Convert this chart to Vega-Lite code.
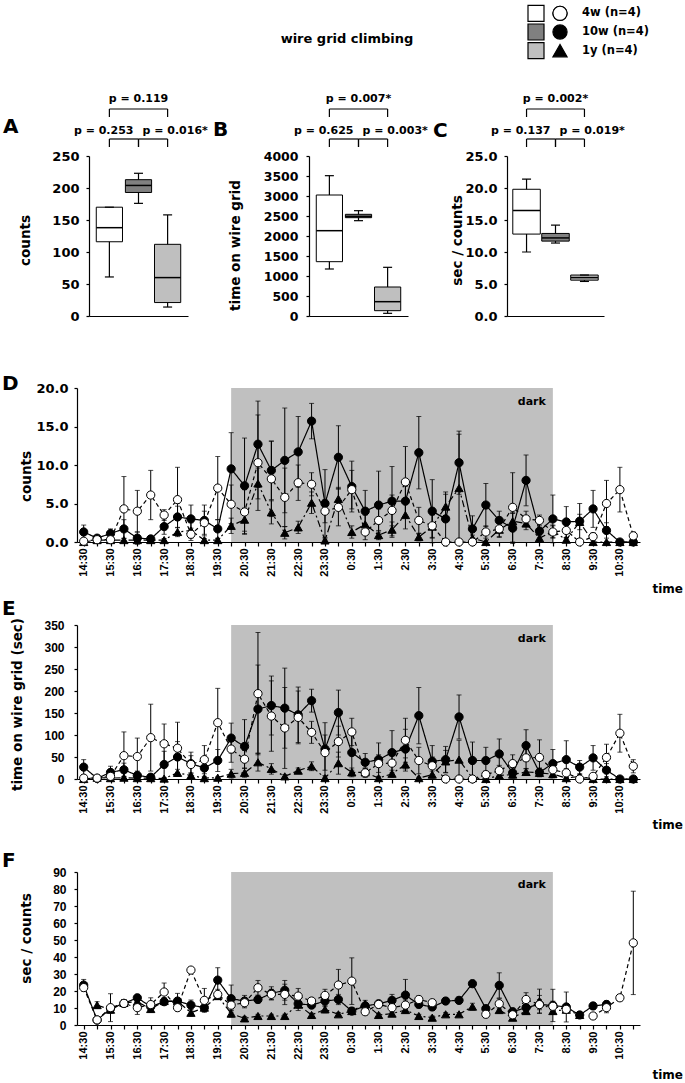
{
"padding": 2,
"config": {
 "view": {"stroke": null},
 "font": "DejaVu Sans",
 "axis": {"grid": false, "domainColor": "black", "tickColor": "black", "labelColor": "black", "titleColor": "black", "domainWidth": 1.2, "tickWidth": 1.2, "tickSize": 3, "labelFont": "DejaVu Sans", "labelFontWeight": "bold", "labelFontSize": 12, "titleFont": "DejaVu Sans", "titleFontWeight": "bold", "titleFontSize": 13.5, "labelOverlap": false},
 "axisX": {"labelOverlap": false}
},
"datasets": {
 "leg": [{"g": "4w", "label": "4w (n=4)"}, {"g": "10w", "label": "10w (n=4)"}, {"g": "1y", "label": "1y (n=4)"}],
 "dark": [{"x1": 5.5, "x2": 17.5, "label": "dark"}],
 "box": [
  {"p":"A","g":"4w","lo":61,"q1":116,"med":138,"q3":170,"hi":170},
  {"p":"A","g":"10w","lo":176,"q1":193,"med":204,"q3":213,"hi":223},
  {"p":"A","g":"1y","lo":14,"q1":21,"med":60,"q3":112,"hi":158},
  {"p":"B","g":"4w","lo":1175,"q1":1358,"med":2133,"q3":3025,"hi":3508},
  {"p":"B","g":"10w","lo":2383,"q1":2458,"med":2490,"q3":2542,"hi":2633},
  {"p":"B","g":"1y","lo":67,"q1":133,"med":358,"q3":725,"hi":1217},
  {"p":"C","g":"4w","lo":10.0,"q1":12.8,"med":16.5,"q3":19.8,"hi":21.4},
  {"p":"C","g":"10w","lo":11.4,"q1":11.7,"med":12.2,"q3":12.9,"hi":14.2},
  {"p":"C","g":"1y","lo":5.4,"q1":5.6,"med":6.0,"q3":6.4,"hi":6.4}
 ],
 "br": [
  {"p":"A","x1":0,"x2":2,"lvl":2,"label":"p = 0.119","side":"mid"},
  {"p":"A","x1":0,"x2":1,"lvl":1,"label":"p = 0.253","side":"left"},
  {"p":"A","x1":1,"x2":2,"lvl":1,"label":"p = 0.016*","side":"right"},
  {"p":"B","x1":0,"x2":2,"lvl":2,"label":"p = 0.007*","side":"mid"},
  {"p":"B","x1":0,"x2":1,"lvl":1,"label":"p = 0.625","side":"left"},
  {"p":"B","x1":1,"x2":2,"lvl":1,"label":"p = 0.003*","side":"right"},
  {"p":"C","x1":0,"x2":2,"lvl":2,"label":"p = 0.002*","side":"mid"},
  {"p":"C","x1":0,"x2":1,"lvl":1,"label":"p = 0.137","side":"left"},
  {"p":"C","x1":1,"x2":2,"lvl":1,"label":"p = 0.019*","side":"right"}
 ],
 "ts": [
  {"h":0,"g":"1y","c":0,"ce":0,"s":0,"se":0,"r":null,"re":null},
  {"h":0.5,"g":"1y","c":0.25,"ce":0.2,"s":3,"se":2,"r":11.7,"re":2},
  {"h":1,"g":"1y","c":0.25,"ce":0.2,"s":2,"se":2,"r":9,"re":2},
  {"h":1.5,"g":"1y","c":0.25,"ce":0.2,"s":3,"se":2,"r":13,"re":2},
  {"h":2,"g":"1y","c":0.25,"ce":0.2,"s":2,"se":2,"r":13.7,"re":2},
  {"h":2.5,"g":"1y","c":0.25,"ce":0.2,"s":2,"se":2,"r":9.4,"re":2},
  {"h":3,"g":"1y","c":0.25,"ce":0.2,"s":1,"se":1,"r":14.1,"re":2},
  {"h":3.5,"g":"1y","c":1.3,"ce":0.6,"s":14,"se":8,"r":14,"re":2},
  {"h":4,"g":"1y","c":1.5,"ce":1,"s":8,"se":6,"r":7.2,"re":2},
  {"h":4.5,"g":"1y","c":0.25,"ce":0.2,"s":2,"se":2,"r":10.2,"re":2},
  {"h":5,"g":"1y","c":0.25,"ce":0.2,"s":3,"se":2,"r":17,"re":2},
  {"h":5.5,"g":"1y","c":2.1,"ce":1,"s":12,"se":10,"r":6.7,"re":2},
  {"h":6,"g":"1y","c":2.9,"ce":1.5,"s":14,"se":10,"r":3.9,"re":1},
  {"h":6.5,"g":"1y","c":7.6,"ce":2,"s":38,"se":20,"r":5.3,"re":1},
  {"h":7,"g":"1y","c":3.85,"ce":1.5,"s":23,"se":12,"r":5.3,"re":1},
  {"h":7.5,"g":"1y","c":1.2,"ce":0.8,"s":6,"se":4,"r":5.3,"re":1},
  {"h":8,"g":"1y","c":1.9,"ce":0.8,"s":19,"se":6,"r":12,"re":2},
  {"h":8.5,"g":"1y","c":5.1,"ce":1.4,"s":29,"se":10,"r":5.9,"re":1},
  {"h":9,"g":"1y","c":0.2,"ce":0.2,"s":2,"se":2,"r":9.2,"re":2},
  {"h":9.5,"g":"1y","c":5.6,"ce":1.5,"s":36,"se":25,"r":6.3,"re":1},
  {"h":10,"g":"1y","c":1.3,"ce":0.8,"s":15,"se":10,"r":8.2,"re":2},
  {"h":10.5,"g":"1y","c":2.3,"ce":1.2,"s":15,"se":10,"r":12.5,"re":2},
  {"h":11,"g":"1y","c":0.9,"ce":0.6,"s":2,"se":2,"r":5.9,"re":1},
  {"h":11.5,"g":"1y","c":1.6,"ce":1,"s":12,"se":8,"r":6.7,"re":1},
  {"h":12,"g":"1y","c":3.5,"ce":1.8,"s":33,"se":15,"r":8.8,"re":2},
  {"h":12.5,"g":"1y","c":0.65,"ce":0.5,"s":2,"se":2,"r":5.3,"re":1},
  {"h":13,"g":"1y","c":2,"ce":1.5,"s":10,"se":8,"r":4.3,"re":1},
  {"h":13.5,"g":"1y","c":4.6,"ce":1.6,"s":40,"se":25,"r":6.3,"re":1},
  {"h":14,"g":"1y","c":7,"ce":7,"s":44,"se":44,"r":6.3,"re":1},
  {"h":14.5,"g":"1y","c":0.5,"ce":0.4,"s":2,"se":2,"r":10.8,"re":2},
  {"h":15,"g":"1y","c":0,"ce":0,"s":0,"se":0,"r":null,"re":null},
  {"h":15.5,"g":"1y","c":1.6,"ce":1,"s":8,"se":6,"r":8.8,"re":2},
  {"h":16,"g":"1y","c":2.7,"ce":1,"s":10,"se":6,"r":4.3,"re":1},
  {"h":16.5,"g":"1y","c":2.4,"ce":0.8,"s":16,"se":8,"r":8.2,"re":2},
  {"h":17,"g":"1y","c":0.5,"ce":0.4,"s":14,"se":8,"r":14.1,"re":7},
  {"h":17.5,"g":"1y","c":1.4,"ce":0.8,"s":11,"se":8,"r":8.2,"re":2},
  {"h":18,"g":"1y","c":0.3,"ce":0.3,"s":2,"se":2,"r":9,"re":2},
  {"h":18.5,"g":"1y","c":2.6,"ce":1,"s":6,"se":4,"r":5.9,"re":1},
  {"h":19,"g":"1y","c":0,"ce":0,"s":0,"se":0,"r":null,"re":null},
  {"h":19.5,"g":"1y","c":0,"ce":0,"s":0,"se":0,"r":null,"re":null},
  {"h":20,"g":"1y","c":0,"ce":0,"s":0,"se":0,"r":null,"re":null},
  {"h":20.5,"g":"1y","c":0,"ce":0,"s":0,"se":0,"r":null,"re":null},
  {"h":0,"g":"10w","c":1.3,"ce":0.9,"s":27,"se":17,"r":23.5,"re":3.3},
  {"h":0.5,"g":"10w","c":0.5,"ce":0.3,"s":1.5,"se":1,"r":2.9,"re":1},
  {"h":1,"g":"10w","c":1.1,"ce":0.6,"s":15,"se":14,"r":9.6,"re":2},
  {"h":1.5,"g":"10w","c":1.7,"ce":1.2,"s":21,"se":15,"r":12.7,"re":2},
  {"h":2,"g":"10w","c":0.5,"ce":0.8,"s":8,"se":10,"r":16,"re":2},
  {"h":2.5,"g":"10w","c":0.4,"ce":0.4,"s":4,"se":4,"r":10.8,"re":2},
  {"h":3,"g":"10w","c":2,"ce":1,"s":33,"se":30,"r":13.7,"re":2},
  {"h":3.5,"g":"10w","c":3.25,"ce":1.4,"s":50,"se":35,"r":14.1,"re":4.5},
  {"h":4,"g":"10w","c":3,"ce":1.8,"s":35,"se":26,"r":11.7,"re":3},
  {"h":4.5,"g":"10w","c":2.8,"ce":2,"s":25,"se":19,"r":10.2,"re":2},
  {"h":5,"g":"10w","c":1.7,"ce":1.2,"s":42,"se":25,"r":26.4,"re":7.3},
  {"h":5.5,"g":"10w","c":9.5,"ce":4.7,"s":93,"se":34,"r":15.5,"re":8},
  {"h":6,"g":"10w","c":7.3,"ce":6.2,"s":74,"se":61,"r":14.1,"re":3.3},
  {"h":6.5,"g":"10w","c":12.7,"ce":5.6,"s":159,"se":100,"r":15,"re":2},
  {"h":7,"g":"10w","c":9.3,"ce":3.8,"s":167,"se":67,"r":18.6,"re":3.9},
  {"h":7.5,"g":"10w","c":10.6,"ce":6.8,"s":161,"se":91,"r":20.4,"re":5.8},
  {"h":8,"g":"10w","c":11.7,"ce":4.6,"s":146,"se":63,"r":12.5,"re":4},
  {"h":8.5,"g":"10w","c":15.7,"ce":2.3,"s":178,"se":26,"r":11.7,"re":2},
  {"h":9,"g":"10w","c":5,"ce":4.4,"s":68,"se":60,"r":14.1,"re":3},
  {"h":9.5,"g":"10w","c":11,"ce":4.1,"s":151,"se":51,"r":15,"re":3},
  {"h":10,"g":"10w","c":7.2,"ce":3.3,"s":60,"se":40,"r":8.2,"re":2},
  {"h":10.5,"g":"10w","c":4,"ce":2.7,"s":38,"se":20,"r":11.2,"re":2},
  {"h":11,"g":"10w","c":4.8,"ce":4.4,"s":44,"se":38,"r":12.5,"re":2},
  {"h":11.5,"g":"10w","c":5.3,"ce":4.5,"s":60,"se":50,"r":14.5,"re":3.5},
  {"h":12,"g":"10w","c":5.3,"ce":2,"s":68,"se":45,"r":17.6,"re":9.2},
  {"h":12.5,"g":"10w","c":11.6,"ce":4.7,"s":144,"se":64,"r":12.1,"re":2},
  {"h":13,"g":"10w","c":4,"ce":4.1,"s":40,"se":36,"r":10.6,"re":2},
  {"h":13.5,"g":"10w","c":3,"ce":3.5,"s":44,"se":30,"r":14.1,"re":2},
  {"h":14,"g":"10w","c":10.3,"ce":4.1,"s":141,"se":50,"r":14.5,"re":2},
  {"h":14.5,"g":"10w","c":1.7,"ce":1.7,"s":42,"se":42,"r":24.3,"re":2},
  {"h":15,"g":"10w","c":4.8,"ce":2.8,"s":42,"se":30,"r":9.6,"re":2},
  {"h":15.5,"g":"10w","c":2.8,"ce":1.2,"s":57,"se":34,"r":23.3,"re":7.4},
  {"h":16,"g":"10w","c":1.8,"ce":2,"s":14,"se":12,"r":7.8,"re":2},
  {"h":16.5,"g":"10w","c":8,"ce":3.3,"s":76,"se":36,"r":10.2,"re":2},
  {"h":17,"g":"10w","c":1.4,"ce":1,"s":15,"se":10,"r":12.1,"re":5.3},
  {"h":17.5,"g":"10w","c":3,"ce":3.1,"s":35,"se":32,"r":11.5,"re":9.5},
  {"h":18,"g":"10w","c":2.6,"ce":2,"s":44,"se":43,"r":10.6,"re":8.8},
  {"h":18.5,"g":"10w","c":2.7,"ce":2.3,"s":27,"se":15,"r":5.9,"re":2},
  {"h":19,"g":"10w","c":4.3,"ce":2.4,"s":48,"se":28,"r":11.2,"re":2},
  {"h":19.5,"g":"10w","c":1.5,"ce":1,"s":20,"se":15,"r":12.1,"re":2},
  {"h":20,"g":"10w","c":0,"ce":0,"s":0,"se":0,"r":null,"re":null},
  {"h":20.5,"g":"10w","c":0,"ce":0,"s":0,"se":0,"r":null,"re":null},
  {"h":0,"g":"4w","c":0.1,"ce":0.1,"s":2,"se":1,"r":22,"re":2},
  {"h":0.5,"g":"4w","c":0.3,"ce":0.3,"s":2,"se":1,"r":3,"re":1},
  {"h":1,"g":"4w","c":0.3,"ce":0.3,"s":6,"se":4,"r":10.2,"re":8.2},
  {"h":1.5,"g":"4w","c":4.3,"ce":4.2,"s":53,"se":54,"r":12.7,"re":2},
  {"h":2,"g":"4w","c":4,"ce":2.7,"s":51,"se":42,"r":10.2,"re":4},
  {"h":2.5,"g":"4w","c":6.1,"ce":3.2,"s":94,"se":76,"r":12,"re":4},
  {"h":3,"g":"4w","c":3.5,"ce":0.7,"s":80,"se":45,"r":19.4,"re":5.3},
  {"h":3.5,"g":"4w","c":5.5,"ce":4.2,"s":70,"se":59,"r":10.2,"re":2},
  {"h":4,"g":"4w","c":1,"ce":0.8,"s":33,"se":20,"r":32.3,"re":1},
  {"h":4.5,"g":"4w","c":2.5,"ce":1.5,"s":44,"se":32,"r":14.5,"re":7},
  {"h":5,"g":"4w","c":7,"ce":4.1,"s":128,"se":78,"r":18,"re":3},
  {"h":5.5,"g":"4w","c":4.9,"ce":2.5,"s":68,"se":30,"r":11.7,"re":3},
  {"h":6,"g":"4w","c":3.9,"ce":2.9,"s":45,"se":20,"r":13.1,"re":3},
  {"h":6.5,"g":"4w","c":10.3,"ce":6.2,"s":194,"se":139,"r":21.9,"re":4.3},
  {"h":7,"g":"4w","c":8.2,"ce":4.9,"s":143,"se":80,"r":18,"re":3},
  {"h":7.5,"g":"4w","c":5.8,"ce":3.8,"s":116,"se":92,"r":18,"re":6},
  {"h":8,"g":"4w","c":7.7,"ce":2.3,"s":140,"se":60,"r":17,"re":4.5},
  {"h":8.5,"g":"4w","c":7.5,"ce":1.5,"s":106,"se":25,"r":14.1,"re":2},
  {"h":9,"g":"4w","c":4,"ce":1.5,"s":60,"se":40,"r":17.4,"re":3.6},
  {"h":9.5,"g":"4w","c":4.5,"ce":2.4,"s":85,"se":35,"r":23.5,"re":9.2},
  {"h":10,"g":"4w","c":6.8,"ce":2.5,"s":107,"se":31,"r":25.8,"re":13.7},
  {"h":10.5,"g":"4w","c":1.3,"ce":1,"s":14,"se":10,"r":7.8,"re":2},
  {"h":11,"g":"4w","c":2.8,"ce":1.5,"s":35,"se":20,"r":12.1,"re":2},
  {"h":11.5,"g":"4w","c":4.1,"ce":2,"s":36,"se":22,"r":10.2,"re":3},
  {"h":12,"g":"4w","c":7.8,"ce":4.6,"s":88,"se":50,"r":11.7,"re":3},
  {"h":12.5,"g":"4w","c":2.8,"ce":1.7,"s":42,"se":30,"r":15,"re":2},
  {"h":13,"g":"4w","c":2.1,"ce":1.5,"s":30,"se":20,"r":13.1,"re":2},
  {"h":13.5,"g":"4w","c":0,"ce":0,"s":0,"se":0,"r":null,"re":null},
  {"h":14,"g":"4w","c":0,"ce":0,"s":0,"se":0,"r":null,"re":null},
  {"h":14.5,"g":"4w","c":0,"ce":0,"s":0,"se":0,"r":null,"re":null},
  {"h":15,"g":"4w","c":1.3,"ce":0.8,"s":10,"se":8,"r":6.3,"re":2},
  {"h":15.5,"g":"4w","c":1.7,"ce":1,"s":19,"se":12,"r":12.5,"re":3},
  {"h":16,"g":"4w","c":4.5,"ce":4.5,"s":35,"se":20,"r":6,"re":2},
  {"h":16.5,"g":"4w","c":3,"ce":1,"s":48,"se":25,"r":15,"re":4},
  {"h":17,"g":"4w","c":2.8,"ce":0.7,"s":49,"se":40,"r":12,"re":3},
  {"h":17.5,"g":"4w","c":1.3,"ce":0.8,"s":21,"se":12,"r":11,"re":3},
  {"h":18,"g":"4w","c":1.5,"ce":1,"s":14,"se":10,"r":9.2,"re":2},
  {"h":18.5,"g":"4w","c":0,"ce":0,"s":0,"se":0,"r":null,"re":null},
  {"h":19,"g":"4w","c":0.7,"ce":0.5,"s":6,"se":4,"r":5.3,"re":2},
  {"h":19.5,"g":"4w","c":5,"ce":3,"s":49,"se":30,"r":10.2,"re":3},
  {"h":20,"g":"4w","c":6.8,"ce":2.9,"s":104,"se":43,"r":16,"re":2},
  {"h":20.5,"g":"4w","c":0.8,"ce":0.5,"s":29,"se":15,"r":48.3,"re":30.4}
 ]
},
"spacing": 21,
"vconcat": [
 {"spacing": 5, "vconcat": [
  {"spacing": 51, "vconcat": [
   {"spacing": 30, "vconcat": [
    {"bounds": "flush", "spacing": 0, "hconcat": [
     {"width": 447, "height": 56, "data": {"values": [{"a": 1}]}, "mark": {"type": "point", "opacity": 0}, "encoding": {"x": {"field": "a", "type": "quantitative", "axis": null}}},
     {"width": 48, "height": 56, "data": {"name": "leg"},
      "layer": [
       {"mark": {"type": "point", "shape": "square", "size": 256, "filled": true, "opacity": 1, "stroke": "black", "strokeWidth": 1.2},
        "encoding": {"x": {"datum": "box", "type": "nominal", "scale": {"domain": ["box","sym"]}, "axis": null}, "y": {"field": "g", "type": "nominal", "scale": {"domain": ["4w","10w","1y"]}, "axis": null}, "fill": {"condition": [{"test": "datum.g === '4w'", "value": "white"}, {"test": "datum.g === '10w'", "value": "#808080"}], "value": "#bfbfbf"}}},
       {"mark": {"type": "point", "size": 201, "filled": true, "opacity": 1, "stroke": "black", "strokeWidth": 1.2, "color": "black"},
        "encoding": {"x": {"datum": "sym", "type": "nominal"}, "y": {"field": "g", "type": "nominal"}, "shape": {"field": "g", "type": "nominal", "scale": {"domain": ["4w","10w","1y"], "range": ["circle","circle","triangle-up"]}, "legend": null}}},
       {"transform": [{"filter": "datum.g === '4w'"}], "mark": {"type": "point", "size": 201, "filled": true, "opacity": 1, "stroke": "black", "strokeWidth": 1.2, "color": "white", "shape": "circle"},
        "encoding": {"x": {"datum": "sym", "type": "nominal"}, "y": {"field": "g", "type": "nominal"}}},
       {"mark": {"type": "text", "align": "left", "baseline": "middle", "dx": 22, "fontSize": 11.5, "fontWeight": "bold", "font": "DejaVu Sans"},
        "encoding": {"x": {"datum": "sym", "type": "nominal"}, "y": {"field": "g", "type": "nominal"}, "text": {"field": "label"}}},
       {"data": {"values": [{"t": "wire grid climbing"}]}, "mark": {"type": "text", "align": "center", "baseline": "middle", "dx": -189, "dy": 7, "fontSize": 13, "fontWeight": "bold", "font": "DejaVu Sans"},
        "encoding": {"x": {"datum": "box", "type": "nominal"}, "y": {"datum": "10w", "type": "nominal"}, "text": {"field": "t"}}}
      ]}
    ]},
    {"bounds": "flush", "spacing": 0, "hconcat": [
     {"width": 12, "height": 1, "data": {"values": [{"a": 1}]}, "mark": {"type": "point", "opacity": 0}, "encoding": {"x": {"field": "a", "type": "quantitative", "axis": null}}},
     {"width": 99, "height": 160, "resolve": {"scale": {"x": "independent", "y": "independent"}},
      "layer": [
       {"data": {"name": "box"}, "transform": [{"filter": "datum.p === 'A'"}],
        "encoding": {"x": {"field": "g", "type": "nominal", "scale": {"domain": ["4w","10w","1y"], "paddingInner": 0.1, "paddingOuter": 0.25}, "axis": {"labels": false, "ticks": false, "title": null}}},
        "layer": [
         {"mark": {"type": "rule", "color": "black", "strokeWidth": 1.2}, "encoding": {"y": {"field": "lo", "type": "quantitative", "title": "counts", "scale": {"domain": [0,250], "nice": false}, "axis": {"title": "counts", "values": [0,50,100,150,200,250], "tickCount": 100, "labelOverlap": false, "titleX": -64, "titleY": 84, "titleAlign": "center", "titleBaseline": "middle", "labelFontSize": 13, "labelPadding": 7}}, "y2": {"field": "hi"}}},
         {"mark": {"type": "bar", "stroke": "black", "strokeWidth": 1}, "encoding": {"y": {"field": "q1", "type": "quantitative", "title": "counts"}, "y2": {"field": "q3"}, "fill": {"condition": [{"test": "datum.g === '4w'", "value": "white"}, {"test": "datum.g === '10w'", "value": "#808080"}], "value": "#bfbfbf"}}},
         {"mark": {"type": "tick", "color": "black", "opacity": 1, "size": 26, "thickness": 1.5}, "encoding": {"y": {"field": "med", "type": "quantitative", "title": "counts"}}},
         {"mark": {"type": "tick", "color": "black", "opacity": 1, "size": 9, "thickness": 1.2}, "encoding": {"y": {"field": "lo", "type": "quantitative", "title": "counts"}}},
         {"mark": {"type": "tick", "color": "black", "opacity": 1, "size": 9, "thickness": 1.2}, "encoding": {"y": {"field": "hi", "type": "quantitative", "title": "counts"}}},
         {"data": {"values": [{"t": "A", "p": "A"}]}, "mark": {"type": "text", "align": "left", "baseline": "alphabetic", "dx": -106.4, "dy": -23, "fontSize": 20, "fontWeight": "bold", "font": "DejaVu Sans"}, "encoding": {"x": {"datum": "4w", "type": "nominal"}, "y": {"datum": 250, "type": "quantitative"}, "text": {"field": "t"}}}
        ]},
       {"data": {"name": "br"}, "transform": [{"filter": "datum.p === 'A'"}],
        "layer": [
         {"mark": {"type": "rule", "color": "black", "strokeWidth": 1.2}, "encoding": {"x": {"field": "x1", "type": "quantitative", "scale": {"domain": [-0.7, 2.7], "nice": false, "zero": false}, "axis": null}, "x2": {"field": "x2"}, "y": {"field": "lvl", "type": "quantitative", "scale": {"domain": [-4.9, 0.4333], "nice": false, "zero": false}, "axis": null}}},
         {"transform": [{"fold": ["x1","x2"], "as": ["k","xx"]}], "mark": {"type": "rule", "color": "black", "strokeWidth": 1.2, "y2Offset": 8}, "encoding": {"x": {"field": "xx", "type": "quantitative", "axis": null}, "y": {"field": "lvl", "type": "quantitative", "axis": null}, "y2": {"field": "lvl"}}},
         {"transform": [{"filter": "datum.side === 'mid'"}], "mark": {"type": "text", "align": "center", "baseline": "alphabetic", "dy": -7, "fontSize": 11, "fontWeight": "bold", "font": "DejaVu Sans"}, "encoding": {"x": {"datum": 1, "type": "quantitative"}, "y": {"field": "lvl", "type": "quantitative"}, "text": {"field": "label"}}},
         {"transform": [{"filter": "datum.side === 'left'"}], "mark": {"type": "text", "align": "right", "baseline": "alphabetic", "dx": -5, "dy": -5, "fontSize": 11, "fontWeight": "bold", "font": "DejaVu Sans"}, "encoding": {"x": {"datum": 1, "type": "quantitative"}, "y": {"field": "lvl", "type": "quantitative"}, "text": {"field": "label"}}},
         {"transform": [{"filter": "datum.side === 'right'"}], "mark": {"type": "text", "align": "left", "baseline": "alphabetic", "dx": 4, "dy": -5, "fontSize": 11, "fontWeight": "bold", "font": "DejaVu Sans"}, "encoding": {"x": {"datum": 1, "type": "quantitative"}, "y": {"field": "lvl", "type": "quantitative"}, "text": {"field": "label"}}}
        ]}
      ]},
     {"width": 121, "height": 1, "data": {"values": [{"a": 1}]}, "mark": {"type": "point", "opacity": 0}, "encoding": {"x": {"field": "a", "type": "quantitative", "axis": null}}},
     {"width": 99, "height": 160, "resolve": {"scale": {"x": "independent", "y": "independent"}},
      "layer": [
       {"data": {"name": "box"}, "transform": [{"filter": "datum.p === 'B'"}],
        "encoding": {"x": {"field": "g", "type": "nominal", "scale": {"domain": ["4w","10w","1y"], "paddingInner": 0.1, "paddingOuter": 0.25}, "axis": {"labels": false, "ticks": false, "title": null}}},
        "layer": [
         {"mark": {"type": "rule", "color": "black", "strokeWidth": 1.2}, "encoding": {"y": {"field": "lo", "type": "quantitative", "title": "time on wire grid", "scale": {"domain": [0,4000], "nice": false}, "axis": {"title": "time on wire grid", "values": [0,500,1000,1500,2000,2500,3000,3500,4000], "tickCount": 100, "labelOverlap": false, "format": "d", "titleX": -74, "titleY": 89, "titleAlign": "center", "titleBaseline": "middle", "labelFontSize": 12.5, "labelPadding": 8}}, "y2": {"field": "hi"}}},
         {"mark": {"type": "bar", "stroke": "black", "strokeWidth": 1}, "encoding": {"y": {"field": "q1", "type": "quantitative", "title": "time on wire grid"}, "y2": {"field": "q3"}, "fill": {"condition": [{"test": "datum.g === '4w'", "value": "white"}, {"test": "datum.g === '10w'", "value": "#808080"}], "value": "#bfbfbf"}}},
         {"mark": {"type": "tick", "color": "black", "opacity": 1, "size": 26, "thickness": 1.5}, "encoding": {"y": {"field": "med", "type": "quantitative", "title": "time on wire grid"}}},
         {"mark": {"type": "tick", "color": "black", "opacity": 1, "size": 9, "thickness": 1.2}, "encoding": {"y": {"field": "lo", "type": "quantitative", "title": "time on wire grid"}}},
         {"mark": {"type": "tick", "color": "black", "opacity": 1, "size": 9, "thickness": 1.2}, "encoding": {"y": {"field": "hi", "type": "quantitative", "title": "time on wire grid"}}},
         {"data": {"values": [{"t": "B", "p": "B"}]}, "mark": {"type": "text", "align": "left", "baseline": "alphabetic", "dx": -116.4, "dy": -20, "fontSize": 20, "fontWeight": "bold", "font": "DejaVu Sans"}, "encoding": {"x": {"datum": "4w", "type": "nominal"}, "y": {"datum": 4000, "type": "quantitative"}, "text": {"field": "t"}}}
        ]},
       {"data": {"name": "br"}, "transform": [{"filter": "datum.p === 'B'"}],
        "layer": [
         {"mark": {"type": "rule", "color": "black", "strokeWidth": 1.2}, "encoding": {"x": {"field": "x1", "type": "quantitative", "scale": {"domain": [-0.7, 2.7], "nice": false, "zero": false}, "axis": null}, "x2": {"field": "x2"}, "y": {"field": "lvl", "type": "quantitative", "scale": {"domain": [-4.9, 0.4333], "nice": false, "zero": false}, "axis": null}}},
         {"transform": [{"fold": ["x1","x2"], "as": ["k","xx"]}], "mark": {"type": "rule", "color": "black", "strokeWidth": 1.2, "y2Offset": 8}, "encoding": {"x": {"field": "xx", "type": "quantitative", "axis": null}, "y": {"field": "lvl", "type": "quantitative", "axis": null}, "y2": {"field": "lvl"}}},
         {"transform": [{"filter": "datum.side === 'mid'"}], "mark": {"type": "text", "align": "center", "baseline": "alphabetic", "dy": -7, "fontSize": 11, "fontWeight": "bold", "font": "DejaVu Sans"}, "encoding": {"x": {"datum": 1, "type": "quantitative"}, "y": {"field": "lvl", "type": "quantitative"}, "text": {"field": "label"}}},
         {"transform": [{"filter": "datum.side === 'left'"}], "mark": {"type": "text", "align": "right", "baseline": "alphabetic", "dx": -5, "dy": -5, "fontSize": 11, "fontWeight": "bold", "font": "DejaVu Sans"}, "encoding": {"x": {"datum": 1, "type": "quantitative"}, "y": {"field": "lvl", "type": "quantitative"}, "text": {"field": "label"}}},
         {"transform": [{"filter": "datum.side === 'right'"}], "mark": {"type": "text", "align": "left", "baseline": "alphabetic", "dx": 4, "dy": -5, "fontSize": 11, "fontWeight": "bold", "font": "DejaVu Sans"}, "encoding": {"x": {"datum": 1, "type": "quantitative"}, "y": {"field": "lvl", "type": "quantitative"}, "text": {"field": "label"}}}
        ]}
      ]},
     {"width": 99, "height": 1, "data": {"values": [{"a": 1}]}, "mark": {"type": "point", "opacity": 0}, "encoding": {"x": {"field": "a", "type": "quantitative", "axis": null}}},
     {"width": 97, "height": 160, "resolve": {"scale": {"x": "independent", "y": "independent"}},
      "layer": [
       {"data": {"name": "box"}, "transform": [{"filter": "datum.p === 'C'"}],
        "encoding": {"x": {"field": "g", "type": "nominal", "scale": {"domain": ["4w","10w","1y"], "paddingInner": 0.05, "paddingOuter": 0.2}, "axis": {"labels": false, "ticks": false, "title": null}}},
        "layer": [
         {"mark": {"type": "rule", "color": "black", "strokeWidth": 1.2}, "encoding": {"y": {"field": "lo", "type": "quantitative", "title": "sec / counts", "scale": {"domain": [0,25], "nice": false}, "axis": {"title": "sec / counts", "values": [0,5,10,15,20,25], "tickCount": 100, "labelOverlap": false, "titleX": -50, "titleY": 84, "titleAlign": "center", "titleBaseline": "middle", "labelFontSize": 13, "labelPadding": 7}}, "y2": {"field": "hi"}}},
         {"mark": {"type": "bar", "stroke": "black", "strokeWidth": 1}, "encoding": {"y": {"field": "q1", "type": "quantitative", "title": "sec / counts"}, "y2": {"field": "q3"}, "fill": {"condition": [{"test": "datum.g === '4w'", "value": "white"}, {"test": "datum.g === '10w'", "value": "#808080"}], "value": "#bfbfbf"}}},
         {"mark": {"type": "tick", "color": "black", "opacity": 1, "size": 27, "thickness": 1.5}, "encoding": {"y": {"field": "med", "type": "quantitative", "title": "sec / counts"}}},
         {"mark": {"type": "tick", "color": "black", "opacity": 1, "size": 9, "thickness": 1.2}, "encoding": {"y": {"field": "lo", "type": "quantitative", "title": "sec / counts"}}},
         {"mark": {"type": "tick", "color": "black", "opacity": 1, "size": 9, "thickness": 1.2}, "encoding": {"y": {"field": "hi", "type": "quantitative", "title": "sec / counts"}}},
         {"data": {"values": [{"t": "C", "p": "C"}]}, "mark": {"type": "text", "align": "left", "baseline": "alphabetic", "dx": -93.5, "dy": -19, "fontSize": 20, "fontWeight": "bold", "font": "DejaVu Sans"}, "encoding": {"x": {"datum": "4w", "type": "nominal"}, "y": {"datum": 25, "type": "quantitative"}, "text": {"field": "t"}}}
        ]},
       {"data": {"name": "br"}, "transform": [{"filter": "datum.p === 'C'"}],
        "layer": [
         {"mark": {"type": "rule", "color": "black", "strokeWidth": 1.2}, "encoding": {"x": {"field": "x1", "type": "quantitative", "scale": {"domain": [-0.675, 2.675], "nice": false, "zero": false}, "axis": null}, "x2": {"field": "x2"}, "y": {"field": "lvl", "type": "quantitative", "scale": {"domain": [-4.9, 0.4333], "nice": false, "zero": false}, "axis": null}}},
         {"transform": [{"fold": ["x1","x2"], "as": ["k","xx"]}], "mark": {"type": "rule", "color": "black", "strokeWidth": 1.2, "y2Offset": 8}, "encoding": {"x": {"field": "xx", "type": "quantitative", "axis": null}, "y": {"field": "lvl", "type": "quantitative", "axis": null}, "y2": {"field": "lvl"}}},
         {"transform": [{"filter": "datum.side === 'mid'"}], "mark": {"type": "text", "align": "center", "baseline": "alphabetic", "dy": -7, "fontSize": 11, "fontWeight": "bold", "font": "DejaVu Sans"}, "encoding": {"x": {"datum": 1, "type": "quantitative"}, "y": {"field": "lvl", "type": "quantitative"}, "text": {"field": "label"}}},
         {"transform": [{"filter": "datum.side === 'left'"}], "mark": {"type": "text", "align": "right", "baseline": "alphabetic", "dx": -5, "dy": -5, "fontSize": 11, "fontWeight": "bold", "font": "DejaVu Sans"}, "encoding": {"x": {"datum": 1, "type": "quantitative"}, "y": {"field": "lvl", "type": "quantitative"}, "text": {"field": "label"}}},
         {"transform": [{"filter": "datum.side === 'right'"}], "mark": {"type": "text", "align": "left", "baseline": "alphabetic", "dx": 4, "dy": -5, "fontSize": 11, "fontWeight": "bold", "font": "DejaVu Sans"}, "encoding": {"x": {"datum": 1, "type": "quantitative"}, "y": {"field": "lvl", "type": "quantitative"}, "text": {"field": "label"}}}
        ]}
      ]}
    ]}
   ]},
   {"width": 563, "height": 154,
    "layer": [
     {"data": {"name": "dark"}, "mark": {"type": "rect", "color": "#c0c0c0"},
      "encoding": {"x": {"field": "x1", "type": "quantitative", "title": "time", "scale": {"domain": [-0.25, 20.75], "nice": false, "zero": false},
        "axis": {"title": "time", "titleX": 575, "titleY": 41, "titleAlign": "left", "titleAngle": 0, "titleFontSize": 12, "values": [0,0.5,1,1.5,2,2.5,3,3.5,4,4.5,5,5.5,6,6.5,7,7.5,8,8.5,9,9.5,10,10.5,11,11.5,12,12.5,13,13.5,14,14.5,15,15.5,16,16.5,17,17.5,18,18.5,19,19.5,20,20.5], "tickCount": 100, "labelExpr": "datum.value % 1 === 0 ? ((14 + datum.value) % 24) + ':30' : ''", "labelAngle": 270, "labelFont": "Liberation Sans", "labelFontSize": 11, "labelOverlap": false, "labelFlush": false, "labelPadding": 2, "tickSize": 4}},
       "x2": {"field": "x2"},
       "y": {"datum": 20, "type": "quantitative", "title": "counts", "scale": {"domain": [0,20], "nice": false}, "axis": {"title": "counts", "values": [0,5,10,15,20], "tickCount": 100, "labelOverlap": false, "titleX": -51, "titleY": 88, "titleAlign": "center", "titleBaseline": "middle", "labelFontSize": 13, "labelPadding": 6}},
       "y2": {"datum": 0}}},
     {"data": {"name": "dark"}, "mark": {"type": "text", "align": "right", "baseline": "alphabetic", "dx": -7, "dy": 17, "fontSize": 11, "fontWeight": "bold", "font": "DejaVu Sans"},
      "encoding": {"x": {"field": "x2", "type": "quantitative", "title": "time"}, "y": {"datum": 20, "type": "quantitative", "title": "counts"}, "text": {"field": "label"}}},
     {"data": {"name": "ts"}, "transform": [{"filter": "datum.ce > 0"}], "mark": {"type": "errorbar", "ticks": true, "color": "black"},
      "encoding": {"x": {"field": "h", "type": "quantitative", "title": "time"}, "y": {"field": "c", "type": "quantitative", "title": "counts"}, "yError": {"field": "ce"}}},
     {"data": {"name": "ts"}, "mark": {"type": "line", "color": "black", "strokeWidth": 1.2},
      "encoding": {"x": {"field": "h", "type": "quantitative", "title": "time"}, "y": {"field": "c", "type": "quantitative", "title": "counts"}, "strokeDash": {"field": "g", "type": "nominal", "scale": {"domain": ["4w","10w","1y"], "range": [[4,3],[1,0],[7,3,2,3]]}, "legend": null}}},
     {"data": {"name": "ts"}, "mark": {"type": "point", "filled": true, "opacity": 1, "stroke": "black", "strokeWidth": 1, "size": 68},
      "encoding": {"x": {"field": "h", "type": "quantitative", "title": "time"}, "y": {"field": "c", "type": "quantitative", "title": "counts"}, "shape": {"field": "g", "type": "nominal", "scale": {"domain": ["4w","10w","1y"], "range": ["circle","circle","triangle-up"]}, "legend": null}, "fill": {"field": "g", "type": "nominal", "scale": {"domain": ["4w","10w","1y"], "range": ["white","black","black"]}, "legend": null}}},
     {"data": {"values": [{"t": "D"}]}, "mark": {"type": "text", "align": "left", "baseline": "alphabetic", "dx": -81.7, "dy": 2, "fontSize": 20, "fontWeight": "bold", "font": "DejaVu Sans"},
      "encoding": {"x": {"datum": 0, "type": "quantitative", "title": "time"}, "y": {"datum": 20, "type": "quantitative", "title": "counts"}, "text": {"field": "t"}}}
    ]}
  ]},
  {"width": 563, "height": 154,
   "layer": [
    {"data": {"name": "dark"}, "mark": {"type": "rect", "color": "#c0c0c0"},
     "encoding": {"x": {"field": "x1", "type": "quantitative", "title": "time", "scale": {"domain": [-0.25, 20.75], "nice": false, "zero": false},
       "axis": {"title": "time", "titleX": 575, "titleY": 40, "titleAlign": "left", "titleAngle": 0, "titleFontSize": 12, "values": [0,0.5,1,1.5,2,2.5,3,3.5,4,4.5,5,5.5,6,6.5,7,7.5,8,8.5,9,9.5,10,10.5,11,11.5,12,12.5,13,13.5,14,14.5,15,15.5,16,16.5,17,17.5,18,18.5,19,19.5,20,20.5], "tickCount": 100, "labelExpr": "datum.value % 1 === 0 ? ((14 + datum.value) % 24) + ':30' : ''", "labelAngle": 270, "labelFont": "Liberation Sans", "labelFontSize": 11, "labelOverlap": false, "labelFlush": false, "labelPadding": 2, "tickSize": 4}},
      "x2": {"field": "x2"},
      "y": {"datum": 350, "type": "quantitative", "title": "time on wire grid (sec)", "scale": {"domain": [0,350], "nice": false}, "axis": {"title": "time on wire grid (sec)", "values": [0,50,100,150,200,250,300,350], "tickCount": 100, "labelOverlap": false, "titleX": -60, "titleY": 79, "titleAlign": "center", "titleBaseline": "middle", "labelFont": "Liberation Sans", "labelFontSize": 12, "labelPadding": 10}},
      "y2": {"datum": 0}}},
    {"data": {"name": "dark"}, "mark": {"type": "text", "align": "right", "baseline": "alphabetic", "dx": -7, "dy": 17, "fontSize": 11, "fontWeight": "bold", "font": "DejaVu Sans"},
     "encoding": {"x": {"field": "x2", "type": "quantitative", "title": "time"}, "y": {"datum": 350, "type": "quantitative", "title": "time on wire grid (sec)"}, "text": {"field": "label"}}},
    {"data": {"name": "ts"}, "transform": [{"filter": "datum.se > 0"}], "mark": {"type": "errorbar", "ticks": true, "color": "black"},
     "encoding": {"x": {"field": "h", "type": "quantitative", "title": "time"}, "y": {"field": "s", "type": "quantitative", "title": "time on wire grid (sec)"}, "yError": {"field": "se"}}},
    {"data": {"name": "ts"}, "mark": {"type": "line", "color": "black", "strokeWidth": 1.2},
     "encoding": {"x": {"field": "h", "type": "quantitative", "title": "time"}, "y": {"field": "s", "type": "quantitative", "title": "time on wire grid (sec)"}, "strokeDash": {"field": "g", "type": "nominal", "scale": {"domain": ["4w","10w","1y"], "range": [[4,3],[1,0],[7,3,2,3]]}, "legend": null}}},
    {"data": {"name": "ts"}, "mark": {"type": "point", "filled": true, "opacity": 1, "stroke": "black", "strokeWidth": 1, "size": 68},
     "encoding": {"x": {"field": "h", "type": "quantitative", "title": "time"}, "y": {"field": "s", "type": "quantitative", "title": "time on wire grid (sec)"}, "shape": {"field": "g", "type": "nominal", "scale": {"domain": ["4w","10w","1y"], "range": ["circle","circle","triangle-up"]}, "legend": null}, "fill": {"field": "g", "type": "nominal", "scale": {"domain": ["4w","10w","1y"], "range": ["white","black","black"]}, "legend": null}}},
    {"data": {"values": [{"t": "E"}]}, "mark": {"type": "text", "align": "left", "baseline": "alphabetic", "dx": -81.7, "dy": -10, "fontSize": 20, "fontWeight": "bold", "font": "DejaVu Sans"},
     "encoding": {"x": {"datum": 0, "type": "quantitative", "title": "time"}, "y": {"datum": 350, "type": "quantitative", "title": "time on wire grid (sec)"}, "text": {"field": "t"}}}
   ]}
 ]},
 {"width": 563, "height": 153,
  "layer": [
   {"data": {"name": "dark"}, "mark": {"type": "rect", "color": "#c0c0c0"},
    "encoding": {"x": {"field": "x1", "type": "quantitative", "title": "time", "scale": {"domain": [-0.25, 20.75], "nice": false, "zero": false},
      "axis": {"title": "time", "titleX": 575, "titleY": 44, "titleAlign": "left", "titleAngle": 0, "titleFontSize": 12, "values": [0,0.5,1,1.5,2,2.5,3,3.5,4,4.5,5,5.5,6,6.5,7,7.5,8,8.5,9,9.5,10,10.5,11,11.5,12,12.5,13,13.5,14,14.5,15,15.5,16,16.5,17,17.5,18,18.5,19,19.5,20,20.5], "tickCount": 100, "labelExpr": "datum.value % 1 === 0 ? ((14 + datum.value) % 24) + ':30' : ''", "labelAngle": 270, "labelFont": "Liberation Sans", "labelFontSize": 11, "labelOverlap": false, "labelFlush": false, "labelPadding": 2, "tickSize": 4}},
     "x2": {"field": "x2"},
     "y": {"datum": 90, "type": "quantitative", "title": "sec / counts", "scale": {"domain": [0,90], "nice": false}, "axis": {"title": "sec / counts", "values": [0,10,20,30,40,50,60,70,80,90], "tickCount": 100, "labelOverlap": false, "titleX": -51, "titleY": 66, "titleAlign": "center", "titleBaseline": "middle", "labelFont": "Liberation Sans", "labelFontSize": 12, "labelPadding": 8}},
     "y2": {"datum": 0}}},
   {"data": {"name": "dark"}, "mark": {"type": "text", "align": "right", "baseline": "alphabetic", "dx": -7, "dy": 16, "fontSize": 11, "fontWeight": "bold", "font": "DejaVu Sans"},
    "encoding": {"x": {"field": "x2", "type": "quantitative", "title": "time"}, "y": {"datum": 90, "type": "quantitative", "title": "sec / counts"}, "text": {"field": "label"}}},
   {"data": {"name": "ts"}, "transform": [{"filter": "datum.re > 0"}], "mark": {"type": "errorbar", "ticks": true, "color": "black"},
    "encoding": {"x": {"field": "h", "type": "quantitative", "title": "time"}, "y": {"field": "r", "type": "quantitative", "title": "sec / counts"}, "yError": {"field": "re"}}},
   {"data": {"name": "ts"}, "mark": {"type": "line", "color": "black", "strokeWidth": 1.2},
    "encoding": {"x": {"field": "h", "type": "quantitative", "title": "time"}, "y": {"field": "r", "type": "quantitative", "title": "sec / counts"}, "strokeDash": {"field": "g", "type": "nominal", "scale": {"domain": ["4w","10w","1y"], "range": [[4,3],[1,0],[7,3,2,3]]}, "legend": null}}},
   {"data": {"name": "ts"}, "mark": {"type": "point", "filled": true, "opacity": 1, "stroke": "black", "strokeWidth": 1, "size": 68},
    "encoding": {"x": {"field": "h", "type": "quantitative", "title": "time"}, "y": {"field": "r", "type": "quantitative", "title": "sec / counts"}, "shape": {"field": "g", "type": "nominal", "scale": {"domain": ["4w","10w","1y"], "range": ["circle","circle","triangle-up"]}, "legend": null}, "fill": {"field": "g", "type": "nominal", "scale": {"domain": ["4w","10w","1y"], "range": ["white","black","black"]}, "legend": null}}},
   {"data": {"values": [{"t": "F"}]}, "mark": {"type": "text", "align": "left", "baseline": "alphabetic", "dx": -81.7, "dy": -5, "fontSize": 20, "fontWeight": "bold", "font": "DejaVu Sans"},
    "encoding": {"x": {"datum": 0, "type": "quantitative", "title": "time"}, "y": {"datum": 90, "type": "quantitative", "title": "sec / counts"}, "text": {"field": "t"}}}
  ]}
]
}
